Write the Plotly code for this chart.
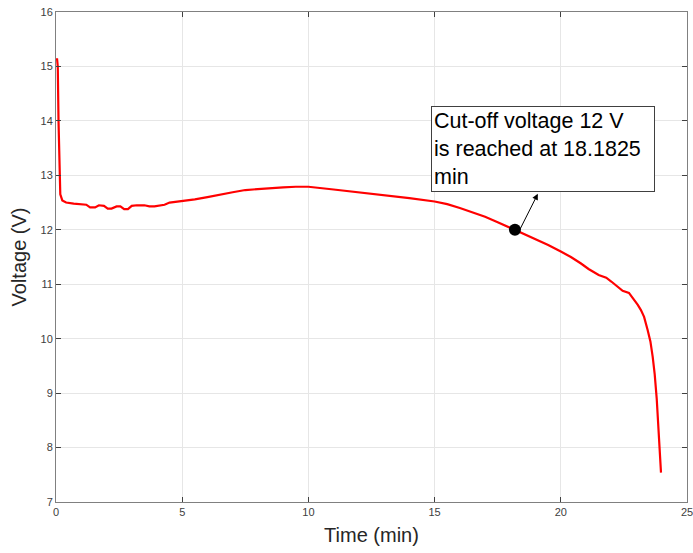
import plotly.graph_objects as go

time_min = [0.04, 0.07, 0.10, 0.13, 0.17, 0.25, 0.4, 0.7, 1.0, 1.2, 1.35, 1.55, 1.7, 1.9, 2.05, 2.2, 2.4, 2.55, 2.7, 2.85, 3.0, 3.2, 3.5, 3.7, 3.9, 4.1, 4.3, 4.5, 4.7, 5.0, 5.3, 5.5, 6.0, 6.5, 7.0, 7.5, 8.0, 8.5, 9.0, 9.5, 10.0,
            11.0, 12.0, 13.0, 14.0, 15.0, 15.5, 16.0, 16.5, 17.0, 17.5, 18.18, 18.6, 19.0, 19.5, 20.0, 20.4, 20.8, 21.1, 21.5, 21.8, 22.0, 22.2, 22.45, 22.7, 22.9, 23.05, 23.17, 23.3, 23.44, 23.55, 23.64, 23.72, 23.8, 23.86, 23.92, 23.97]
voltage = [15.15, 15.0, 14.0, 13.0, 12.65, 12.54, 12.50, 12.48, 12.47, 12.46, 12.41, 12.41, 12.45, 12.44, 12.39, 12.39, 12.43, 12.43, 12.38, 12.38, 12.44, 12.45, 12.45, 12.43, 12.43, 12.45, 12.46, 12.50, 12.51, 12.53, 12.55, 12.56, 12.60, 12.65, 12.69, 12.73, 12.75, 12.77, 12.78, 12.79, 12.79,
           12.74, 12.69, 12.64, 12.58, 12.52, 12.47, 12.40, 12.32, 12.24, 12.14, 12.0, 11.91, 11.83, 11.72, 11.60, 11.50, 11.38, 11.28, 11.17, 11.12, 11.05, 10.98, 10.88, 10.84, 10.72, 10.62, 10.53, 10.40, 10.16, 9.95, 9.67, 9.35, 8.90, 8.45, 8.0, 7.54]

cut_t = [18.1825]
cut_v = [12.0]

fig = go.Figure()
fig.add_trace(go.Scatter(x=time_min, y=voltage, mode="lines",
                         line=dict(color="#ff0000", width=2.2), showlegend=False))
fig.add_trace(go.Scatter(x=cut_t, y=cut_v, mode="markers",
                         marker=dict(color="black", size=12, symbol="circle"), showlegend=False))

fig.add_annotation(x=19.09, y=12.66, ax=18.33, ay=11.96, axref="x", ayref="y",
                   xref="x", yref="y", text="", showarrow=True, arrowhead=2,
                   arrowsize=1.2, arrowwidth=1, arrowcolor="black")
fig.add_annotation(x=14.84, y=14.27, xref="x", yref="y", xanchor="left", yanchor="top",
                   text="Cut-off voltage 12 V<br>is reached at 18.1825<br>min",
                   showarrow=False, align="left", width=218,
                   font=dict(family="Liberation Sans, Arial", size=21.5, color="black"),
                   bordercolor="#404040", borderwidth=1, borderpad=2, bgcolor="white")

axis_common = dict(showline=True, linecolor="#808080", linewidth=1, mirror="ticks",
                   ticks="inside", ticklen=5, tickcolor="#404040",
                   showgrid=True, gridcolor="#e6e6e6", gridwidth=1, zeroline=False,
                   automargin=False,
                   tickfont=dict(family="Liberation Sans, Arial", size=11, color="#404040"))

fig.update_xaxes(range=[0, 25], tickvals=[0, 5, 10, 15, 20, 25], ticklabeloverflow="allow",
                 title=dict(text="Time (min)", font=dict(family="Liberation Sans, Arial", size=20, color="#262626"), standoff=10),
                 **axis_common)
fig.update_yaxes(range=[7, 16], tickvals=list(range(7, 17)),
                 title=dict(text="Voltage (V)", font=dict(family="Liberation Sans, Arial", size=20, color="#262626"), standoff=8),
                 **axis_common)

fig.update_layout(width=693, height=553, margin=dict(l=56, r=6, t=12, b=51, autoexpand=False),
                  plot_bgcolor="white", paper_bgcolor="white")

fig.write_html("out.html")
